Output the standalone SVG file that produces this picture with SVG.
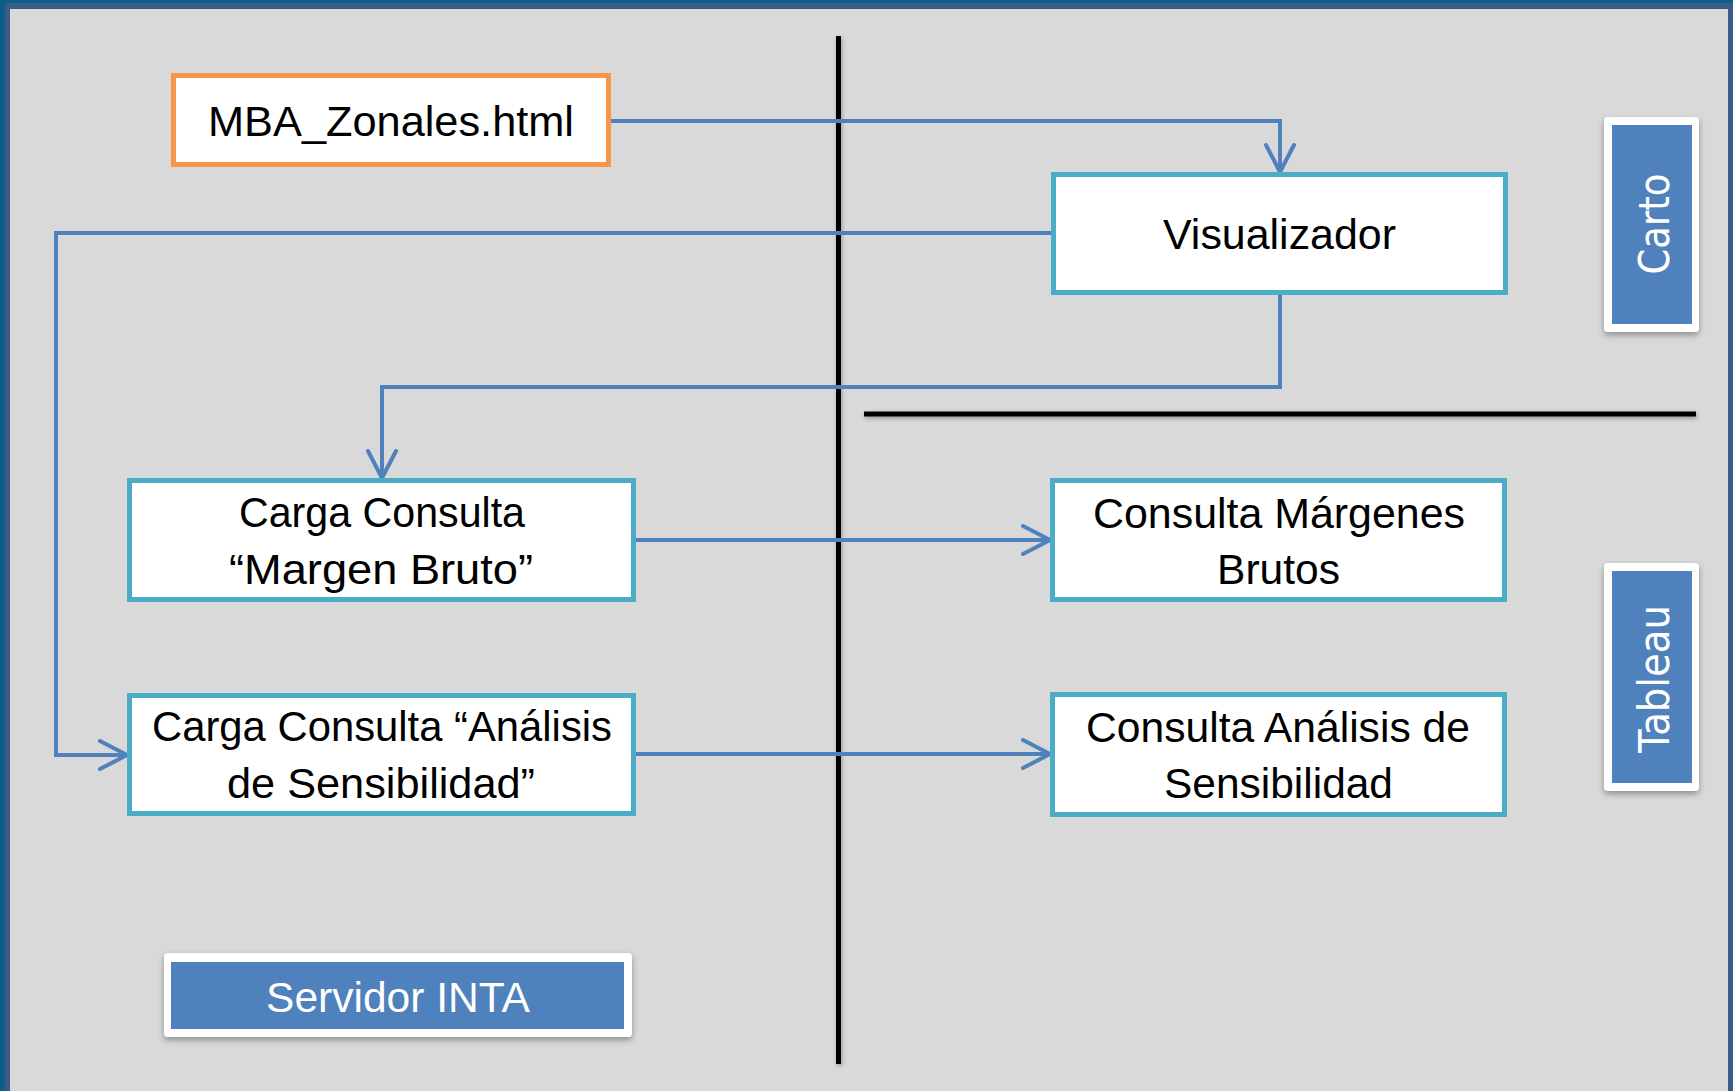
<svg xmlns="http://www.w3.org/2000/svg" width="1733" height="1091" viewBox="0 0 1733 1091">
  <style>
    .node { fill: #ffffff; stroke: #4bacc6; stroke-width: 5; }
    .src { fill: #ffffff; stroke: #f79646; stroke-width: 5; }
    .lbl { font-family: "Liberation Sans", Arial, sans-serif; font-size: 43px; fill: #000000; text-anchor: middle; }
    .wlbl { font-family: "Liberation Sans", Arial, sans-serif; font-size: 43px; fill: #ffffff; text-anchor: middle; }
    .vlbl { font-family: "DejaVu Sans", Verdana, sans-serif; font-size: 42px; fill: #ffffff; text-anchor: middle; }
    .conn { fill: none; stroke: #4f81bd; stroke-width: 4; }
    .sep { fill: #000000; }
    .tagout { fill: #ffffff; }
    .tagin { fill: #4f81bd; }
  </style>
  <defs>
    <marker id="arr" markerUnits="userSpaceOnUse" markerWidth="32" markerHeight="32" viewBox="0 0 32 32" refX="29" refY="16" orient="auto">
      <path d="M2,2 L29,16 L2,30" fill="none" stroke="#4f81bd" stroke-width="4" stroke-linejoin="round" stroke-linecap="round"/>
    </marker>
    <filter id="shadow" x="-20%" y="-20%" width="140%" height="140%">
      <feDropShadow dx="0" dy="3" stdDeviation="3" flood-color="#000000" flood-opacity="0.35"/>
    </filter>
    <filter id="lshadow" filterUnits="userSpaceOnUse" x="0" y="0" width="1733" height="1091">
      <feDropShadow dx="1" dy="2" stdDeviation="2" flood-color="#000000" flood-opacity="0.3"/>
    </filter>
  </defs>

  <!-- frame and background -->
  <rect x="0" y="0" width="1733" height="1091" fill="#0b5e87"/>
  <rect x="4.7" y="3" width="1728.3" height="1088" fill="#3b5b8b"/>
  <rect x="10" y="9" width="1718" height="1082" fill="#d9d9d9"/>

  <!-- separators -->
  <g id="separators" filter="url(#lshadow)">
    <rect class="sep" x="836" y="36" width="5" height="1028"/>
    <rect class="sep" x="864" y="411.5" width="832" height="5"/>
  </g>

  <!-- connectors -->
  <g id="connectors">
    <path class="conn" d="M611,121 H1280 V172" marker-end="url(#arr)"/>
    <path class="conn" d="M1051,233 H56 V755 H127" marker-end="url(#arr)"/>
    <path class="conn" d="M1280,295 V387 H382 V478" marker-end="url(#arr)"/>
    <path class="conn" d="M636,540 H1050" marker-end="url(#arr)"/>
    <path class="conn" d="M636,754 H1050" marker-end="url(#arr)"/>
  </g>

  <g id="mba">
    <rect class="src" x="173.5" y="75.5" width="435" height="89"/>
    <text class="lbl" x="391" y="136" textLength="366" lengthAdjust="spacingAndGlyphs">MBA_Zonales.html</text>
  </g>

  <g id="visualizador">
    <rect class="node" x="1053.5" y="174.5" width="452" height="118"/>
    <text class="lbl" x="1279.5" y="249" textLength="233" lengthAdjust="spacingAndGlyphs">Visualizador</text>
  </g>

  <g id="carga-mb">
    <rect class="node" x="129.5" y="480.5" width="504" height="119"/>
    <text class="lbl" x="382" y="527" textLength="286" lengthAdjust="spacingAndGlyphs">Carga Consulta</text>
    <text class="lbl" x="381" y="584" textLength="304" lengthAdjust="spacingAndGlyphs">“Margen Bruto”</text>
  </g>

  <g id="carga-as">
    <rect class="node" x="129.5" y="695.5" width="504" height="118"/>
    <text class="lbl" x="382" y="741" textLength="460" lengthAdjust="spacingAndGlyphs">Carga Consulta “Análisis</text>
    <text class="lbl" x="381" y="798" textLength="308" lengthAdjust="spacingAndGlyphs">de Sensibilidad”</text>
  </g>

  <g id="consulta-mb">
    <rect class="node" x="1052.5" y="480.5" width="452" height="119"/>
    <text class="lbl" x="1279" y="528" textLength="372" lengthAdjust="spacingAndGlyphs">Consulta Márgenes</text>
    <text class="lbl" x="1278.5" y="584" textLength="123" lengthAdjust="spacingAndGlyphs">Brutos</text>
  </g>

  <g id="consulta-as">
    <rect class="node" x="1052.5" y="694.5" width="452" height="120"/>
    <text class="lbl" x="1278" y="742" textLength="384" lengthAdjust="spacingAndGlyphs">Consulta Análisis de</text>
    <text class="lbl" x="1278.5" y="798" textLength="229" lengthAdjust="spacingAndGlyphs">Sensibilidad</text>
  </g>

  <g id="carto">
    <rect class="tagout" x="1604" y="117" width="95" height="215" rx="4" filter="url(#shadow)"/>
    <rect class="tagin" x="1612" y="125" width="80" height="199"/>
    <text class="vlbl" transform="translate(1669,224) rotate(-90)" x="0" y="0" textLength="101" lengthAdjust="spacingAndGlyphs">Carto</text>
  </g>

  <g id="tableau">
    <rect class="tagout" x="1604" y="563" width="95" height="228" rx="4" filter="url(#shadow)"/>
    <rect class="tagin" x="1612" y="571" width="80" height="212"/>
    <text class="vlbl" transform="translate(1669,679) rotate(-90)" x="0" y="0" textLength="148" lengthAdjust="spacingAndGlyphs">Tableau</text>
  </g>

  <g id="servidor">
    <rect class="tagout" x="164" y="953" width="468" height="84" rx="4" filter="url(#shadow)"/>
    <rect class="tagin" x="171" y="962" width="453" height="67"/>
    <text class="wlbl" x="398" y="1012" textLength="264" lengthAdjust="spacingAndGlyphs">Servidor INTA</text>
  </g>
</svg>
